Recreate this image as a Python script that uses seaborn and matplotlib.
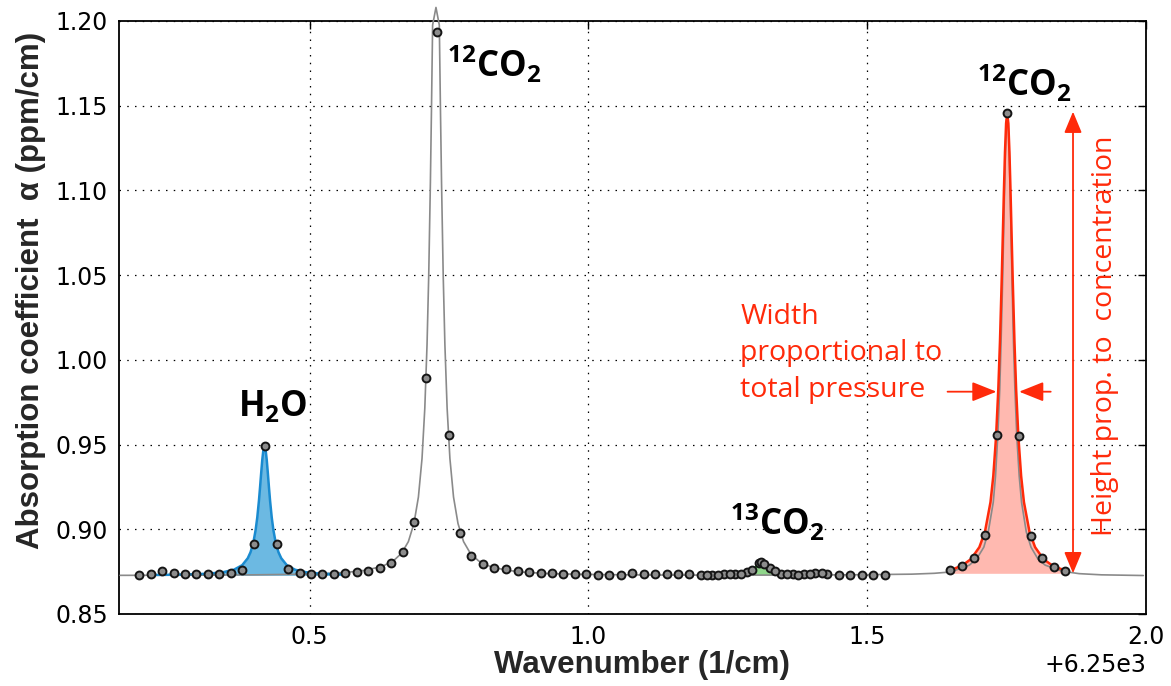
import matplotlib
matplotlib.use("Agg")
import matplotlib.pyplot as plt
from matplotlib.ticker import MultipleLocator, ScalarFormatter
import seaborn as sns

# wavenumbers are stored as offsets from 6250 cm-1
BASE = 6250.0

# gray model curve
model_x = [0.160, 0.300, 0.400, 0.470, 0.530, 0.570, 0.600, 0.630, 0.650, 0.665,
           0.677, 0.687, 0.695, 0.7015, 0.7065, 0.7105, 0.7135, 0.7165, 0.7185, 0.7205,
           0.7265, 0.7325, 0.7345, 0.7365, 0.7395, 0.7425, 0.7465, 0.7515, 0.758, 0.766,
           0.776, 0.788, 0.803, 0.823, 0.853, 0.883, 0.923, 0.983, 1.10, 1.25,
           1.40, 1.50, 1.58, 1.62, 1.65, 1.683, 1.696, 1.709, 1.717, 1.726,
           1.730, 1.734, 1.7376, 1.740, 1.7427, 1.7444, 1.7461, 1.7478, 1.7495, 1.7512,
           1.7529, 1.7546, 1.7563, 1.7580, 1.7597, 1.7622, 1.7648, 1.7682, 1.7725, 1.7767,
           1.7852, 1.7937, 1.8062, 1.8192, 1.85, 1.88, 1.92, 1.995]
model_y = [0.8728, 0.8729, 0.8731, 0.8734, 0.8739, 0.8747, 0.8758, 0.8781, 0.8813, 0.8859,
           0.8927, 0.9034, 0.9190, 0.9418, 0.9715, 1.0091, 1.0497, 1.1044, 1.1490, 1.1976,
           1.2080, 1.1976, 1.1490, 1.1044, 1.0497, 1.0091, 0.9715, 0.9418, 0.9190, 0.9034,
           0.8927, 0.8859, 0.8813, 0.8781, 0.8758, 0.8747, 0.8739, 0.8734, 0.8730, 0.8729,
           0.8730, 0.8732, 0.8735, 0.8740, 0.8748, 0.8788, 0.8824, 0.8894, 0.8984, 0.9160,
           0.9313, 0.9547, 0.9826, 1.0107, 1.0458, 1.0721, 1.0988, 1.1227, 1.1396, 1.1458,
           1.1396, 1.1227, 1.0988, 1.0721, 1.0458, 1.0107, 0.9826, 0.9547, 0.9313, 0.9160,
           0.8984, 0.8894, 0.8824, 0.8788, 0.8752, 0.8738, 0.8731, 0.8727]

# H2O line
h2o_x = [0.215, 0.259, 0.289, 0.319, 0.344, 0.364, 0.379, 0.389, 0.394, 0.399,
         0.403, 0.406, 0.409, 0.411, 0.413, 0.415, 0.417, 0.419, 0.421, 0.423,
         0.425, 0.427, 0.429, 0.432, 0.435, 0.439, 0.444, 0.449, 0.459, 0.474,
         0.494, 0.519, 0.549, 0.566]
h2o_y = [0.8730, 0.8732, 0.8734, 0.8738, 0.8746, 0.8761, 0.8788, 0.8829, 0.8865, 0.8922,
         0.8994, 0.9069, 0.9168, 0.9247, 0.9331, 0.9410, 0.9468, 0.9490, 0.9468, 0.9410,
         0.9331, 0.9247, 0.9168, 0.9069, 0.8994, 0.8922, 0.8865, 0.8829, 0.8788, 0.8761,
         0.8746, 0.8738, 0.8734, 0.8733]

# 13CO2 line
c13_x = [1.202, 1.240, 1.270, 1.285, 1.295, 1.302, 1.306, 1.310, 1.314, 1.318,
         1.325, 1.335, 1.350, 1.380, 1.419]
c13_y = [0.8731, 0.8732, 0.8736, 0.8745, 0.8760, 0.8784, 0.8800, 0.8808, 0.8800, 0.8784,
         0.8760, 0.8745, 0.8736, 0.8732, 0.8731]

# 12CO2 fitted line
c12_x = [1.645, 1.656, 1.671, 1.686, 1.701, 1.711, 1.721, 1.726, 1.731, 1.735,
         1.738, 1.741, 1.743, 1.745, 1.747, 1.749, 1.751, 1.753, 1.755, 1.757,
         1.759, 1.761, 1.764, 1.767, 1.771, 1.776, 1.781, 1.791, 1.801, 1.816,
         1.831, 1.846, 1.857]
c12_y = [0.8757, 0.8767, 0.8788, 0.8824, 0.8894, 0.8984, 0.9160, 0.9313, 0.9547, 0.9826,
         1.0107, 1.0458, 1.0721, 1.0988, 1.1227, 1.1396, 1.1458, 1.1396, 1.1227, 1.0988,
         1.0721, 1.0458, 1.0107, 0.9826, 0.9547, 0.9313, 0.9160, 0.8984, 0.8894, 0.8824,
         0.8788, 0.8767, 0.8757]

# measured points
meas_x = [0.194, 0.215, 0.235, 0.256, 0.276, 0.297, 0.317, 0.338, 0.359, 0.379,
          0.400, 0.420, 0.441, 0.461, 0.482, 0.503, 0.523, 0.544, 0.564, 0.585,
          0.605, 0.626, 0.646, 0.667, 0.688, 0.708, 0.729, 0.749, 0.770, 0.790,
          0.811, 0.831, 0.852, 0.873, 0.893, 0.914, 0.934, 0.955, 0.975, 0.996,
          1.017, 1.037, 1.058, 1.078, 1.099, 1.119, 1.140, 1.161, 1.181, 1.202,
          1.222, 1.243, 1.263, 1.284, 1.305, 1.325, 1.346, 1.366, 1.387, 1.407,
          1.428, 1.449, 1.469, 1.490, 1.510, 1.531]
meas_y = [0.8730, 0.8738, 0.8754, 0.8740, 0.8734, 0.8734, 0.8736, 0.8734, 0.8740, 0.8762,
          0.8911, 0.9490, 0.8915, 0.8766, 0.8742, 0.8738, 0.8734, 0.8736, 0.8740, 0.8746,
          0.8754, 0.8772, 0.8801, 0.8864, 0.9045, 0.9891, 1.1936, 0.9558, 0.8980, 0.8842,
          0.8793, 0.8770, 0.8764, 0.8752, 0.8746, 0.8744, 0.8740, 0.8734, 0.8734, 0.8734,
          0.8732, 0.8732, 0.8732, 0.8742, 0.8733, 0.8733, 0.8733, 0.8733, 0.8733, 0.8732,
          0.8732, 0.8733, 0.8735, 0.8745, 0.8800, 0.8770, 0.8738, 0.8734, 0.8736, 0.8740,
          0.8733, 0.8732, 0.8732, 0.8732, 0.8732, 0.8732]
c13_pts_x = [1.212, 1.233, 1.253, 1.274, 1.294, 1.3095, 1.315, 1.335, 1.356, 1.376, 1.397, 1.418]
c13_pts_y = [0.8731, 0.8732, 0.8733, 0.8736, 0.8760, 0.8809, 0.8795, 0.8752, 0.8733, 0.8732, 0.8734, 0.8742]
c12_pts_x = [1.649, 1.670, 1.691, 1.712, 1.732, 1.751, 1.772, 1.793, 1.814, 1.835, 1.855]
c12_pts_y = [0.8758, 0.8782, 0.8831, 0.8965, 0.9555, 1.1458, 0.9553, 0.8960, 0.8829, 0.8779, 0.8754]


def wn(xs):
    return [BASE + v for v in xs]


sns.set_style("white")
plt.rcParams['font.family'] = ['DejaVu Sans']
plt.rcParams['mathtext.fontset'] = 'custom'
plt.rcParams['mathtext.rm'] = 'Open Sans:bold'
plt.rcParams['mathtext.it'] = 'Open Sans:bold'
plt.rcParams['mathtext.bf'] = 'Open Sans:bold'

fig = plt.figure(figsize=(11.71, 6.86), dpi=100)
ax = fig.add_axes([0.1016, 0.1050, 0.8771, 0.8644])

gray = '#8a8a8a'
blue, blue_fill = '#1a8bd0', '#6cb9e2'
green, green_fill = '#1f9e1f', '#8fd68a'
red, red_fill = '#ff2a0a', '#ffb9b0'

ax.fill_between(wn(h2o_x), h2o_y, 0.8728, color=blue_fill, lw=0, zorder=2)
ax.fill_between(wn(c13_x), c13_y, 0.8730, color=green_fill, lw=0, zorder=2)
ax.fill_between(wn(c12_x), c12_y, 0.8740, color=red_fill, lw=0, zorder=2)

sns.lineplot(x=wn(model_x), y=model_y, ax=ax, color=gray, linewidth=1.2,
             sort=False, estimator=None, zorder=3, clip_on=False)
sns.lineplot(x=wn(h2o_x), y=h2o_y, ax=ax, color=blue, linewidth=1.8,
             sort=False, estimator=None, zorder=4)
sns.lineplot(x=wn(c13_x), y=c13_y, ax=ax, color=green, linewidth=1.8,
             sort=False, estimator=None, zorder=4)
sns.lineplot(x=wn(c12_x), y=c12_y, ax=ax, color=red, linewidth=1.8,
             sort=False, estimator=None, zorder=4)

pt_kw = dict(ax=ax, s=32, color='#8c8c8c', edgecolor='#151515', linewidth=1.4,
             zorder=5, legend=False, clip_on=False)
sns.scatterplot(x=wn(meas_x), y=meas_y, **pt_kw)
sns.scatterplot(x=wn(c13_pts_x), y=c13_pts_y, **pt_kw)
sns.scatterplot(x=wn(c12_pts_x), y=c12_pts_y, **pt_kw)

ax.set_xlim(BASE + 0.158, BASE + 2.0)
ax.set_ylim(0.85, 1.20)
ax.xaxis.set_major_locator(MultipleLocator(0.5))
ax.yaxis.set_major_locator(MultipleLocator(0.05))
xfmt = ScalarFormatter(useOffset=BASE)
ax.xaxis.set_major_formatter(xfmt)
ax.set_axisbelow(True)
ax.grid(True, color='black', linestyle=(0, (1.2, 5.0)), linewidth=0.9)
ax.tick_params(direction='in', length=6, width=1, top=True, right=True,
               labelsize=17, pad=8, colors='black')
ax.xaxis.get_offset_text().set_fontsize(17)
for sp in ax.spines.values():
    sp.set_color('black')
    sp.set_linewidth(1.3)

lab_font = dict(family='Liberation Sans', weight='bold', size=22.5)
ax.set_xlabel('Wavenumber (1/cm)', **lab_font)
ax.set_ylabel('Absorption coefficient  α (ppm/cm)', **lab_font)
ax.xaxis.set_label_coords(0.509, -0.060)
ax.yaxis.set_label_coords(-0.071, 0.545)

mol_font = dict(family='Open Sans', weight='bold', size=25, color='black')
ax.text(BASE + 0.747, 1.167, r'$^{12}$CO$_2$', ha='left', va='baseline', **mol_font)
ax.text(BASE + 1.697, 1.156, r'$^{12}$CO$_2$', ha='left', va='baseline', **mol_font)
ax.text(BASE + 0.371, 0.967, r'H$_2$O', ha='left', va='baseline', **mol_font)
ax.text(BASE + 1.253, 0.8966, r'$^{13}$CO$_2$', ha='left', va='baseline', **mol_font)

note_font = dict(family='Open Sans', size=20.5, color=red)
ax.text(BASE + 1.2724, 0.9783, 'Width\nproportional to\ntotal pressure',
        ha='left', va='baseline', linespacing=1.4, **note_font)
ax.text(BASE + 1.9265, 1.0141, 'Height prop. to  concentration', rotation=90,
        ha='center', va='center', **note_font)

arrow2 = dict(arrowstyle='<|-|>,head_length=0.65,head_width=0.27', color=red,
              lw=1.3, mutation_scale=20, shrinkA=0, shrinkB=0)
ax.annotate('', xy=(BASE + 1.869, 1.1465), xytext=(BASE + 1.869, 0.874),
            arrowprops=arrow2)
arrow1 = dict(arrowstyle='-|>,head_length=0.75,head_width=0.3', color=red,
              lw=1.3, mutation_scale=20, shrinkA=0, shrinkB=0)
ax.annotate('', xy=(BASE + 1.7317, 0.9812), xytext=(BASE + 1.644, 0.9812),
            arrowprops=arrow1)
ax.annotate('', xy=(BASE + 1.7724, 0.9812), xytext=(BASE + 1.829, 0.9812),
            arrowprops=arrow1)

fig.savefig('out.png', dpi=100)
